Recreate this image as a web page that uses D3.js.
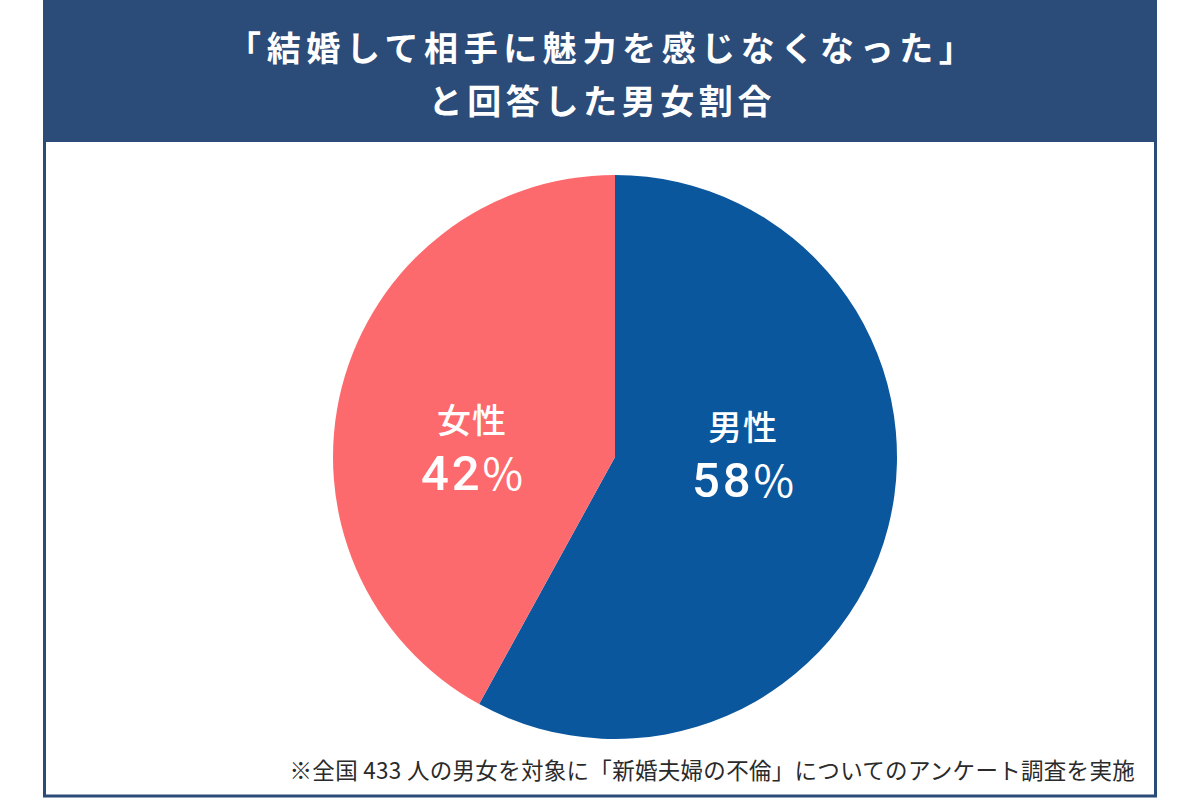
<!DOCTYPE html>
<html><head><meta charset="utf-8">
<script src="https://cdn.jsdelivr.net/npm/d3@7"></script>
<style>html,body{margin:0;padding:0;background:#fff;}svg{display:block;}</style>
</head><body>
<svg id="c" width="1200" height="800"></svg>
<script>
const titleLines = ["「結婚して相手に魅力を感じなくなった」", "と回答した男女割合"];
const categories = ["男性", "女性"];
const values = [58, 42];
const colors = ["#0b579e", "#fd6a6d"];
const footnote = "※全国 433 人の男女を対象に「新婚夫婦の不倫」についてのアンケート調査を実施";

const svg = d3.select("#c");
const font = "'Noto Sans CJK JP', 'Noto Sans', sans-serif";

// frame
svg.append("rect").attr("x", 44.5).attr("y", -2).attr("width", 1111).attr("height", 798)
  .attr("fill", "#fff").attr("stroke", "#2b4b79").attr("stroke-width", 3);
svg.append("rect").attr("x", 43).attr("y", 0).attr("width", 1114).attr("height", 142).attr("fill", "#2b4b79");

const titleSpacing = [5.6, 4.6];
svg.selectAll("text.title").data(titleLines).join("text")
  .attr("class", "title")
  .attr("x", (d, i) => 600 + titleSpacing[i] / 2).attr("y", (d, i) => 61 + i * 53)
  .attr("text-anchor", "middle")
  .attr("fill", "#fff").attr("font-family", font).attr("font-weight", 700)
  .attr("font-size", 34).attr("letter-spacing", (d, i) => titleSpacing[i]).text(d => d);

const cx = 615, cy = 457, r = 282;
const pie = d3.pie().sort(null).value(d => d.v);
const data = categories.map((c, i) => ({c, v: values[i], col: colors[i]}));
const arcs = pie(data);
const arc = d3.arc().innerRadius(0).outerRadius(r);
const g = svg.append("g").attr("transform", `translate(${cx},${cy})`);
g.selectAll("path").data(arcs).join("path").attr("d", arc).attr("fill", d => d.data.col);

const labelPos = [[128, 0], [-143, -7]];
arcs.forEach((a, i) => {
  const [lx, ly] = labelPos[i];
  g.append("text").attr("x", lx).attr("y", ly - 17)
    .attr("text-anchor", "middle").attr("fill", "#fff")
    .attr("font-family", font).attr("font-weight", 500).attr("font-size", 34)
    .attr("letter-spacing", 1)
    .text(a.data.c);
  const t = g.append("text").attr("x", lx).attr("y", ly + 40)
    .attr("text-anchor", "middle").attr("fill", "#fff")
    .attr("font-family", "Roboto, 'Liberation Sans', sans-serif").attr("font-weight", 500).attr("font-size", 49);
  t.append("tspan").attr("letter-spacing", 3).text(a.data.v);
  t.append("tspan").attr("font-size", 44).attr("font-family", "'Noto Sans CJK JP', sans-serif").attr("font-weight", 400).text("%");
});

svg.append("text").attr("x", 1135).attr("y", 779).attr("text-anchor", "end")
  .attr("fill", "#2a2a2a").attr("font-family", font).attr("font-weight", 400)
  .attr("font-size", 22.5).attr("letter-spacing", 0.3).text(footnote);
</script>
</body></html>
